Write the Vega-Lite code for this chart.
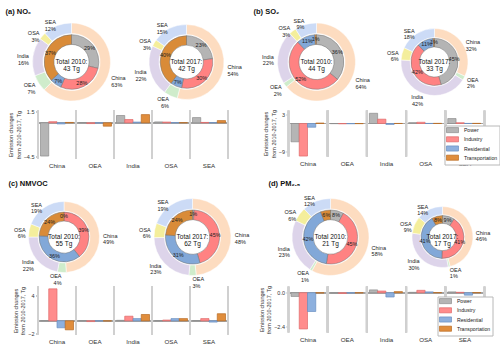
{
"$schema":"https://vega.github.io/schema/vega-lite/v6.json",
"background":"white",
"padding":{"left":5,"top":7.5,"right":0,"bottom":0},
"columns":2,
"spacing":{"row":0,"column":60.5},
"bounds":"flush",
"align":"each",
"resolve":{"scale":{"color":"independent","fill":"independent","stroke":"independent"},"legend":{"color":"independent","fill":"independent","stroke":"independent"}},
"config":{"view":{"stroke":null},"font":"Liberation Sans","legend":{"labelFontSize":5.2,"symbolSize":4,"symbolStrokeWidth":0.7,"rowPadding":0.2}},
"datasets":{
"shares":[
{"p":"NOx","yr":2010,"k":"r","n":"China","v":63,"o":1},{"p":"NOx","yr":2010,"k":"r","n":"OEA","v":7,"o":2},{"p":"NOx","yr":2010,"k":"r","n":"India","v":16,"o":3},{"p":"NOx","yr":2010,"k":"r","n":"OSA","v":3,"o":4},{"p":"NOx","yr":2010,"k":"r","n":"SEA","v":12,"o":5},
{"p":"NOx","yr":2010,"k":"s","n":"Power","v":29,"o":1},{"p":"NOx","yr":2010,"k":"s","n":"Industry","v":28,"o":2},{"p":"NOx","yr":2010,"k":"s","n":"Residential","v":7,"o":3},{"p":"NOx","yr":2010,"k":"s","n":"Transportation","v":37,"o":4},
{"p":"NOx","yr":2017,"k":"r","n":"China","v":54,"o":1},{"p":"NOx","yr":2017,"k":"r","n":"OEA","v":6,"o":2},{"p":"NOx","yr":2017,"k":"r","n":"India","v":22,"o":3},{"p":"NOx","yr":2017,"k":"r","n":"OSA","v":3,"o":4},{"p":"NOx","yr":2017,"k":"r","n":"SEA","v":15,"o":5},
{"p":"NOx","yr":2017,"k":"s","n":"Power","v":23,"o":1},{"p":"NOx","yr":2017,"k":"s","n":"Industry","v":30,"o":2},{"p":"NOx","yr":2017,"k":"s","n":"Residential","v":7,"o":3},{"p":"NOx","yr":2017,"k":"s","n":"Transportation","v":40,"o":4},
{"p":"SO2","yr":2010,"k":"r","n":"China","v":64,"o":1},{"p":"SO2","yr":2010,"k":"r","n":"OEA","v":2,"o":2},{"p":"SO2","yr":2010,"k":"r","n":"India","v":22,"o":3},{"p":"SO2","yr":2010,"k":"r","n":"OSA","v":3,"o":4},{"p":"SO2","yr":2010,"k":"r","n":"SEA","v":9,"o":5},
{"p":"SO2","yr":2010,"k":"s","n":"Power","v":36,"o":1},{"p":"SO2","yr":2010,"k":"s","n":"Industry","v":52,"o":2},{"p":"SO2","yr":2010,"k":"s","n":"Residential","v":11,"o":3},{"p":"SO2","yr":2010,"k":"s","n":"Transportation","v":1,"o":4},
{"p":"SO2","yr":2017,"k":"r","n":"China","v":32,"o":1},{"p":"SO2","yr":2017,"k":"r","n":"OEA","v":2,"o":2},{"p":"SO2","yr":2017,"k":"r","n":"India","v":42,"o":3},{"p":"SO2","yr":2017,"k":"r","n":"OSA","v":6,"o":4},{"p":"SO2","yr":2017,"k":"r","n":"SEA","v":18,"o":5},
{"p":"SO2","yr":2017,"k":"s","n":"Power","v":45,"o":1},{"p":"SO2","yr":2017,"k":"s","n":"Industry","v":42,"o":2},{"p":"SO2","yr":2017,"k":"s","n":"Residential","v":11,"o":3},{"p":"SO2","yr":2017,"k":"s","n":"Transportation","v":1,"o":4},
{"p":"NMVOC","yr":2010,"k":"r","n":"China","v":49,"o":1},{"p":"NMVOC","yr":2010,"k":"r","n":"OEA","v":4,"o":2},{"p":"NMVOC","yr":2010,"k":"r","n":"India","v":22,"o":3},{"p":"NMVOC","yr":2010,"k":"r","n":"OSA","v":6,"o":4},{"p":"NMVOC","yr":2010,"k":"r","n":"SEA","v":19,"o":5},
{"p":"NMVOC","yr":2010,"k":"s","n":"Power","v":0,"o":1},{"p":"NMVOC","yr":2010,"k":"s","n":"Industry","v":39,"o":2},{"p":"NMVOC","yr":2010,"k":"s","n":"Residential","v":36,"o":3},{"p":"NMVOC","yr":2010,"k":"s","n":"Transportation","v":24,"o":4},
{"p":"NMVOC","yr":2017,"k":"r","n":"China","v":48,"o":1},{"p":"NMVOC","yr":2017,"k":"r","n":"OEA","v":3,"o":2},{"p":"NMVOC","yr":2017,"k":"r","n":"India","v":23,"o":3},{"p":"NMVOC","yr":2017,"k":"r","n":"OSA","v":6,"o":4},{"p":"NMVOC","yr":2017,"k":"r","n":"SEA","v":19,"o":5},
{"p":"NMVOC","yr":2017,"k":"s","n":"Power","v":1,"o":1},{"p":"NMVOC","yr":2017,"k":"s","n":"Industry","v":45,"o":2},{"p":"NMVOC","yr":2017,"k":"s","n":"Residential","v":31,"o":3},{"p":"NMVOC","yr":2017,"k":"s","n":"Transportation","v":24,"o":4},
{"p":"PM","yr":2010,"k":"r","n":"China","v":58,"o":1},{"p":"PM","yr":2010,"k":"r","n":"OEA","v":1,"o":2},{"p":"PM","yr":2010,"k":"r","n":"India","v":23,"o":3},{"p":"PM","yr":2010,"k":"r","n":"OSA","v":6,"o":4},{"p":"PM","yr":2010,"k":"r","n":"SEA","v":12,"o":5},
{"p":"PM","yr":2010,"k":"s","n":"Power","v":8,"o":1},{"p":"PM","yr":2010,"k":"s","n":"Industry","v":45,"o":2},{"p":"PM","yr":2010,"k":"s","n":"Residential","v":42,"o":3},{"p":"PM","yr":2010,"k":"s","n":"Transportation","v":6,"o":4},
{"p":"PM","yr":2017,"k":"r","n":"China","v":46,"o":1},{"p":"PM","yr":2017,"k":"r","n":"OEA","v":1,"o":2},{"p":"PM","yr":2017,"k":"r","n":"India","v":30,"o":3},{"p":"PM","yr":2017,"k":"r","n":"OSA","v":9,"o":4},{"p":"PM","yr":2017,"k":"r","n":"SEA","v":14,"o":5},
{"p":"PM","yr":2017,"k":"s","n":"Power","v":9,"o":1},{"p":"PM","yr":2017,"k":"s","n":"Industry","v":41,"o":2},{"p":"PM","yr":2017,"k":"s","n":"Residential","v":41,"o":3},{"p":"PM","yr":2017,"k":"s","n":"Transportation","v":8,"o":4}
],
"totals":[{"p":"NOx","yr":2010,"t":43},{"p":"NOx","yr":2017,"t":42},{"p":"SO2","yr":2010,"t":44},{"p":"SO2","yr":2017,"t":33},{"p":"NMVOC","yr":2010,"t":55},{"p":"NMVOC","yr":2017,"t":62},{"p":"PM","yr":2010,"t":21},{"p":"PM","yr":2017,"t":17}],
"bars":[
{"p":"NOx","r":"China","s":"Power","v":-4.45},{"p":"NOx","r":"China","s":"Industry","v":0.15},{"p":"NOx","r":"China","s":"Residential","v":-0.15},{"p":"NOx","r":"China","s":"Transportation","v":0.05},
{"p":"NOx","r":"OEA","s":"Power","v":0.03},{"p":"NOx","r":"OEA","s":"Industry","v":-0.1},{"p":"NOx","r":"OEA","s":"Residential","v":-0.02},{"p":"NOx","r":"OEA","s":"Transportation","v":-0.45},
{"p":"NOx","r":"India","s":"Power","v":0.98},{"p":"NOx","r":"India","s":"Industry","v":0.44},{"p":"NOx","r":"India","s":"Residential","v":0.1},{"p":"NOx","r":"India","s":"Transportation","v":1.1},
{"p":"NOx","r":"OSA","s":"Power","v":0.12},{"p":"NOx","r":"OSA","s":"Industry","v":0.1},{"p":"NOx","r":"OSA","s":"Residential","v":0.02},{"p":"NOx","r":"OSA","s":"Transportation","v":0.02},
{"p":"NOx","r":"SEA","s":"Power","v":0.7},{"p":"NOx","r":"SEA","s":"Industry","v":0.05},{"p":"NOx","r":"SEA","s":"Residential","v":0.02},{"p":"NOx","r":"SEA","s":"Transportation","v":0.3},
{"p":"SO2","r":"China","s":"Power","v":-5.9},{"p":"SO2","r":"China","s":"Industry","v":-10.5},{"p":"SO2","r":"China","s":"Residential","v":-1.2},{"p":"SO2","r":"China","s":"Transportation","v":0.15},
{"p":"SO2","r":"OEA","s":"Power","v":-0.05},{"p":"SO2","r":"OEA","s":"Industry","v":-0.1},{"p":"SO2","r":"OEA","s":"Residential","v":-0.08},{"p":"SO2","r":"OEA","s":"Transportation","v":-0.05},
{"p":"SO2","r":"India","s":"Power","v":3.3},{"p":"SO2","r":"India","s":"Industry","v":1.4},{"p":"SO2","r":"India","s":"Residential","v":-0.3},{"p":"SO2","r":"India","s":"Transportation","v":0.02},
{"p":"SO2","r":"OSA","s":"Power","v":0.3},{"p":"SO2","r":"OSA","s":"Industry","v":0.4},{"p":"SO2","r":"OSA","s":"Residential","v":0.03},{"p":"SO2","r":"OSA","s":"Transportation","v":0.05},
{"p":"SO2","r":"SEA","s":"Power","v":1.6},{"p":"SO2","r":"SEA","s":"Industry","v":0.25},{"p":"SO2","r":"SEA","s":"Residential","v":0.03},{"p":"SO2","r":"SEA","s":"Transportation","v":0.05},
{"p":"NMVOC","r":"China","s":"Power","v":0.02},{"p":"NMVOC","r":"China","s":"Industry","v":5.05},{"p":"NMVOC","r":"China","s":"Residential","v":-1.1},{"p":"NMVOC","r":"China","s":"Transportation","v":-1.42},
{"p":"NMVOC","r":"OEA","s":"Power","v":0},{"p":"NMVOC","r":"OEA","s":"Industry","v":-0.12},{"p":"NMVOC","r":"OEA","s":"Residential","v":-0.02},{"p":"NMVOC","r":"OEA","s":"Transportation","v":-0.03},
{"p":"NMVOC","r":"India","s":"Power","v":0.08},{"p":"NMVOC","r":"India","s":"Industry","v":0.73},{"p":"NMVOC","r":"India","s":"Residential","v":0.35},{"p":"NMVOC","r":"India","s":"Transportation","v":1.0},
{"p":"NMVOC","r":"OSA","s":"Power","v":0.02},{"p":"NMVOC","r":"OSA","s":"Industry","v":0.12},{"p":"NMVOC","r":"OSA","s":"Residential","v":0.35},{"p":"NMVOC","r":"OSA","s":"Transportation","v":0.35},
{"p":"NMVOC","r":"SEA","s":"Power","v":0.02},{"p":"NMVOC","r":"SEA","s":"Industry","v":0.35},{"p":"NMVOC","r":"SEA","s":"Residential","v":-0.2},{"p":"NMVOC","r":"SEA","s":"Transportation","v":1.12},
{"p":"PM","r":"China","s":"Power","v":-0.26},{"p":"PM","r":"China","s":"Industry","v":-2.55},{"p":"PM","r":"China","s":"Residential","v":-1.32},{"p":"PM","r":"China","s":"Transportation","v":-0.02},
{"p":"PM","r":"OEA","s":"Power","v":-0.02},{"p":"PM","r":"OEA","s":"Industry","v":-0.05},{"p":"PM","r":"OEA","s":"Residential","v":-0.02},{"p":"PM","r":"OEA","s":"Transportation","v":-0.01},
{"p":"PM","r":"India","s":"Power","v":0.2},{"p":"PM","r":"India","s":"Industry","v":0.12},{"p":"PM","r":"India","s":"Residential","v":-0.3},{"p":"PM","r":"India","s":"Transportation","v":0.08},
{"p":"PM","r":"OSA","s":"Power","v":0.03},{"p":"PM","r":"OSA","s":"Industry","v":0.17},{"p":"PM","r":"OSA","s":"Residential","v":0.06},{"p":"PM","r":"OSA","s":"Transportation","v":0.01},
{"p":"PM","r":"SEA","s":"Power","v":0.06},{"p":"PM","r":"SEA","s":"Industry","v":0.03},{"p":"PM","r":"SEA","s":"Residential","v":-0.17},{"p":"PM","r":"SEA","s":"Transportation","v":0.01}
]
},
"concat":[
{
"width":190,"height":97,
"title":{"text":"(a) NOₓ","anchor":"start","frame":"group","dx":-32.5,"offset":-2,"fontSize":7.5,"fontWeight":"bold","color":"#111"},
"data":{"name":"shares"},
"transform":[{"filter":"datum.p === 'NOx'"}],
"encoding":{"x":{"field":"yr","type":"ordinal","scale":{"type":"point","padding":0.3261,"align":0.4467},"axis":null}},
"resolve":{"scale":{"theta":"independent"}},
"layer":[
{"transform":[{"filter":"datum.yr === 2010 && datum.k === 'r'"}],"mark":{"type":"arc","radius":39,"radius2":28.5,"stroke":"#ffffff","strokeWidth":0.5},"encoding":{"theta":{"field":"v","type":"quantitative","stack":true},"order":{"field":"o","type":"quantitative"},"color":{"field":"n","type":"nominal","scale":{"domain":["China","OEA","India","OSA","SEA","Power","Industry","Residential","Transportation"],"range":["#fddcc0","#cfeccb","#ddd4ea","#f4ee9c","#ccdbf6","#b4b4b4","#ff8282","#82a8d8","#d98b38"]},"legend":null}}},
{"transform":[{"filter":"datum.yr === 2010 && datum.k === 's'"}],"mark":{"type":"arc","radius":27.3,"radius2":17.6,"stroke":"#707070","strokeWidth":0.5},"encoding":{"theta":{"field":"v","type":"quantitative","stack":true},"order":{"field":"o","type":"quantitative"},"color":{"field":"n","type":"nominal","scale":{"domain":["China","OEA","India","OSA","SEA","Power","Industry","Residential","Transportation"],"range":["#fddcc0","#cfeccb","#ddd4ea","#f4ee9c","#ccdbf6","#b4b4b4","#ff8282","#82a8d8","#d98b38"]},"legend":null}}},
{"transform":[{"filter":"datum.yr === 2017 && datum.k === 'r'"}],"mark":{"type":"arc","radius":37.5,"radius2":27.4,"stroke":"#ffffff","strokeWidth":0.5},"encoding":{"theta":{"field":"v","type":"quantitative","stack":true},"order":{"field":"o","type":"quantitative"},"color":{"field":"n","type":"nominal","scale":{"domain":["China","OEA","India","OSA","SEA","Power","Industry","Residential","Transportation"],"range":["#fddcc0","#cfeccb","#ddd4ea","#f4ee9c","#ccdbf6","#b4b4b4","#ff8282","#82a8d8","#d98b38"]},"legend":null}}},
{"transform":[{"filter":"datum.yr === 2017 && datum.k === 's'"}],"mark":{"type":"arc","radius":26.3,"radius2":16.9,"stroke":"#707070","strokeWidth":0.5},"encoding":{"theta":{"field":"v","type":"quantitative","stack":true},"order":{"field":"o","type":"quantitative"},"color":{"field":"n","type":"nominal","scale":{"domain":["China","OEA","India","OSA","SEA","Power","Industry","Residential","Transportation"],"range":["#fddcc0","#cfeccb","#ddd4ea","#f4ee9c","#ccdbf6","#b4b4b4","#ff8282","#82a8d8","#d98b38"]},"legend":null}}},
{"transform":[{"filter":"datum.yr === 2010 && datum.k === 'r'"},{"calculate":"datum.n + '|' + datum.v + '%'","as":"lab"}],"mark":{"type":"text","radius":43,"fontSize":5.5,"lineBreak":"|","lineHeight":6.6,"baseline":"middle","align":{"expr":"datum.v_start + datum.v_end > 100 ? 'right' : 'left'"},"color":"#222"},"encoding":{"theta":{"field":"v","type":"quantitative","stack":true},"order":{"field":"o","type":"quantitative"},"text":{"field":"lab"}}},
{"transform":[{"filter":"datum.yr === 2010 && datum.k === 's'"},{"calculate":"datum.v + '%'","as":"lab"}],"mark":{"type":"text","radius":23,"fontSize":5.5,"baseline":"middle","color":"#222"},"encoding":{"theta":{"field":"v","type":"quantitative","stack":true},"order":{"field":"o","type":"quantitative"},"text":{"field":"lab"}}},
{"transform":[{"filter":"datum.yr === 2017 && datum.k === 'r'"},{"calculate":"datum.n + '|' + datum.v + '%'","as":"lab"}],"mark":{"type":"text","radius":41.3,"fontSize":5.5,"lineBreak":"|","lineHeight":6.6,"baseline":"middle","align":{"expr":"datum.v_start + datum.v_end > 100 ? 'right' : 'left'"},"color":"#222"},"encoding":{"theta":{"field":"v","type":"quantitative","stack":true},"order":{"field":"o","type":"quantitative"},"text":{"field":"lab"}}},
{"transform":[{"filter":"datum.yr === 2017 && datum.k === 's'"},{"calculate":"datum.v + '%'","as":"lab"}],"mark":{"type":"text","radius":22.1,"fontSize":5.5,"baseline":"middle","color":"#222"},"encoding":{"theta":{"field":"v","type":"quantitative","stack":true},"order":{"field":"o","type":"quantitative"},"text":{"field":"lab"}}},
{"data":{"name":"totals"},"transform":[{"filter":"datum.p === 'NOx'"},{"calculate":"'Total ' + datum.yr + ':|' + datum.t + ' Tg'","as":"lab"}],"mark":{"type":"text","fontSize":6.5,"lineBreak":"|","lineHeight":7.2,"baseline":"middle","align":"center","color":"#111"},"encoding":{"text":{"field":"lab"}}}
]
},
{
"width":196,"height":97,
"title":{"text":"(b) SO₂","anchor":"start","frame":"group","dx":-35,"offset":-2,"fontSize":7.5,"fontWeight":"bold","color":"#111"},
"data":{"name":"shares"},
"transform":[{"filter":"datum.p === 'SO2'"}],
"encoding":{"x":{"field":"yr","type":"ordinal","scale":{"type":"point","padding":0.3305,"align":0.359},"axis":null}},
"resolve":{"scale":{"theta":"independent"}},
"layer":[
{"transform":[{"filter":"datum.yr === 2010 && datum.k === 'r'"}],"mark":{"type":"arc","radius":39,"radius2":28.5,"stroke":"#ffffff","strokeWidth":0.5},"encoding":{"theta":{"field":"v","type":"quantitative","stack":true},"order":{"field":"o","type":"quantitative"},"color":{"field":"n","type":"nominal","scale":{"domain":["China","OEA","India","OSA","SEA","Power","Industry","Residential","Transportation"],"range":["#fddcc0","#cfeccb","#ddd4ea","#f4ee9c","#ccdbf6","#b4b4b4","#ff8282","#82a8d8","#d98b38"]},"legend":null}}},
{"transform":[{"filter":"datum.yr === 2010 && datum.k === 's'"}],"mark":{"type":"arc","radius":27.3,"radius2":17.6,"stroke":"#707070","strokeWidth":0.5},"encoding":{"theta":{"field":"v","type":"quantitative","stack":true},"order":{"field":"o","type":"quantitative"},"color":{"field":"n","type":"nominal","scale":{"domain":["China","OEA","India","OSA","SEA","Power","Industry","Residential","Transportation"],"range":["#fddcc0","#cfeccb","#ddd4ea","#f4ee9c","#ccdbf6","#b4b4b4","#ff8282","#82a8d8","#d98b38"]},"legend":null}}},
{"transform":[{"filter":"datum.yr === 2017 && datum.k === 'r'"}],"mark":{"type":"arc","radius":33.5,"radius2":24.5,"stroke":"#ffffff","strokeWidth":0.5},"encoding":{"theta":{"field":"v","type":"quantitative","stack":true},"order":{"field":"o","type":"quantitative"},"color":{"field":"n","type":"nominal","scale":{"domain":["China","OEA","India","OSA","SEA","Power","Industry","Residential","Transportation"],"range":["#fddcc0","#cfeccb","#ddd4ea","#f4ee9c","#ccdbf6","#b4b4b4","#ff8282","#82a8d8","#d98b38"]},"legend":null}}},
{"transform":[{"filter":"datum.yr === 2017 && datum.k === 's'"}],"mark":{"type":"arc","radius":23.5,"radius2":15.1,"stroke":"#707070","strokeWidth":0.5},"encoding":{"theta":{"field":"v","type":"quantitative","stack":true},"order":{"field":"o","type":"quantitative"},"color":{"field":"n","type":"nominal","scale":{"domain":["China","OEA","India","OSA","SEA","Power","Industry","Residential","Transportation"],"range":["#fddcc0","#cfeccb","#ddd4ea","#f4ee9c","#ccdbf6","#b4b4b4","#ff8282","#82a8d8","#d98b38"]},"legend":null}}},
{"transform":[{"filter":"datum.yr === 2010 && datum.k === 'r'"},{"calculate":"datum.n + '|' + datum.v + '%'","as":"lab"}],"mark":{"type":"text","radius":43,"fontSize":5.5,"lineBreak":"|","lineHeight":6.6,"baseline":"middle","align":{"expr":"datum.v_start + datum.v_end > 100 ? 'right' : 'left'"},"color":"#222"},"encoding":{"theta":{"field":"v","type":"quantitative","stack":true},"order":{"field":"o","type":"quantitative"},"text":{"field":"lab"}}},
{"transform":[{"filter":"datum.yr === 2010 && datum.k === 's'"},{"calculate":"datum.v + '%'","as":"lab"}],"mark":{"type":"text","radius":23,"fontSize":5.5,"baseline":"middle","color":"#222"},"encoding":{"theta":{"field":"v","type":"quantitative","stack":true},"order":{"field":"o","type":"quantitative"},"text":{"field":"lab"}}},
{"transform":[{"filter":"datum.yr === 2017 && datum.k === 'r'"},{"calculate":"datum.n + '|' + datum.v + '%'","as":"lab"}],"mark":{"type":"text","radius":37,"fontSize":5.5,"lineBreak":"|","lineHeight":6.6,"baseline":"middle","align":{"expr":"datum.v_start + datum.v_end > 100 ? 'right' : 'left'"},"color":"#222"},"encoding":{"theta":{"field":"v","type":"quantitative","stack":true},"order":{"field":"o","type":"quantitative"},"text":{"field":"lab"}}},
{"transform":[{"filter":"datum.yr === 2017 && datum.k === 's'"},{"calculate":"datum.v + '%'","as":"lab"}],"mark":{"type":"text","radius":19.8,"fontSize":5.5,"baseline":"middle","color":"#222"},"encoding":{"theta":{"field":"v","type":"quantitative","stack":true},"order":{"field":"o","type":"quantitative"},"text":{"field":"lab"}}},
{"data":{"name":"totals"},"transform":[{"filter":"datum.p === 'SO2'"},{"calculate":"'Total ' + datum.yr + ':|' + datum.t + ' Tg'","as":"lab"}],"mark":{"type":"text","fontSize":6.5,"lineBreak":"|","lineHeight":7.2,"baseline":"middle","align":"center","color":"#111"},"encoding":{"text":{"field":"lab"}}}
]
},
{
"width":190,"height":48,
"data":{"name":"bars"},
"transform":[{"filter":"datum.p === 'NOx'"}],
"layer":[
{"mark":{"type":"rule","color":"#a6a6a6","strokeWidth":0.7},"encoding":{"y":{"datum":0,"type":"quantitative","scale":{"domain":[-4.78,1.65],"nice":false}}}},
{"mark":{"type":"bar","strokeWidth":0.7},"encoding":{
"x":{"field":"r","type":"nominal","sort":["China","OEA","India","OSA","SEA"],"scale":{"paddingInner":0,"paddingOuter":0},"axis":{"title":null,"labelAngle":0,"domain":false,"ticks":false,"labelFontSize":6.2,"labelColor":"#333","labelPadding":4}},
"xOffset":{"field":"s","type":"nominal","sort":["Power","Industry","Residential","Transportation"],"scale":{"paddingInner":0,"paddingOuter":0.3}},
"y":{"field":"v","type":"quantitative","scale":{"domain":[-4.78,1.65],"nice":false},"axis":{"title":["Emission changes","from 2010-2017, Tg"],"values":[1.5,0,-1.5,-3,-4.5],"format":".1f","domain":false,"grid":false,"tickSize":2.5,"tickColor":"#555","tickWidth":0.6,"labelFontSize":5.5,"labelColor":"#333","labelPadding":1.5,"titleFontSize":5.5,"titleFontWeight":"normal","titleColor":"#333","titlePadding":2}},
"fill":{"field":"s","type":"nominal","scale":{"domain":["Power","Industry","Residential","Transportation"],"range":["#b5b5b5","#ff8c8c","#8db0de","#e08d3c"]},"legend":null},
"stroke":{"field":"s","type":"nominal","scale":{"domain":["Power","Industry","Residential","Transportation"],"range":["#8c8c8c","#e06a6a","#6a8fc2","#b96c22"]},"legend":null}}},
{"mark":{"type":"rule","color":"#d0d0d0","strokeWidth":2},"encoding":{"x":{"field":"r","type":"nominal","sort":["China","OEA","India","OSA","SEA"],"bandPosition":0}}},
{"mark":{"type":"rule","color":"#d0d0d0","strokeWidth":2},"encoding":{"x":{"field":"r","type":"nominal","sort":["China","OEA","India","OSA","SEA"],"bandPosition":1}}}
]
},
{
"width":196,"height":46,
"data":{"name":"bars"},
"transform":[{"filter":"datum.p === 'SO2'"}],
"layer":[
{"mark":{"type":"rule","color":"#a6a6a6","strokeWidth":0.7},"encoding":{"y":{"datum":0,"type":"quantitative","scale":{"domain":[-10.65,4.2],"nice":false}}}},
{"mark":{"type":"bar","strokeWidth":0.7},"encoding":{
"x":{"field":"r","type":"nominal","sort":["China","OEA","India","OSA","SEA"],"scale":{"paddingInner":0,"paddingOuter":0},"axis":{"title":null,"labelAngle":0,"domain":false,"ticks":false,"labelFontSize":6.2,"labelColor":"#333","labelPadding":4}},
"xOffset":{"field":"s","type":"nominal","sort":["Power","Industry","Residential","Transportation"],"scale":{"paddingInner":0,"paddingOuter":0.3}},
"y":{"field":"v","type":"quantitative","scale":{"domain":[-10.65,4.2],"nice":false},"axis":{"title":["Emission changes","from 2010-2017, Tg"],"values":[3,0,-3,-6,-9],"format":"d","domain":false,"grid":false,"tickSize":2.5,"tickColor":"#555","tickWidth":0.6,"labelFontSize":5.5,"labelColor":"#333","labelPadding":1.5,"titleFontSize":5.5,"titleFontWeight":"normal","titleColor":"#333","titlePadding":2}},
"fill":{"field":"s","type":"nominal","scale":{"domain":["Power","Industry","Residential","Transportation"],"range":["#b5b5b5","#ff8c8c","#8db0de","#e08d3c"]},"legend":{"title":null,"orient":"none","legendX":156,"legendY":15,"direction":"vertical","fillColor":"#ffffff","strokeColor":"#b8b8b8","padding":2,"labelFontSize":5.2,"labelColor":"#222","symbolType":"M-6,-2.55H6V2.55H-6Z","symbolSize":4,"symbolStrokeWidth":0.7,"symbolOffset":3.4,"labelOffset":8.8,"rowPadding":0.2}},
"stroke":{"field":"s","type":"nominal","scale":{"domain":["Power","Industry","Residential","Transportation"],"range":["#8c8c8c","#e06a6a","#6a8fc2","#b96c22"]},"legend":{"title":null,"orient":"none","legendX":156,"legendY":15,"direction":"vertical","fillColor":"#ffffff","strokeColor":"#b8b8b8","padding":2,"labelFontSize":5.2,"labelColor":"#222","symbolType":"M-6,-2.55H6V2.55H-6Z","symbolSize":4,"symbolStrokeWidth":0.7,"symbolOffset":3.4,"labelOffset":8.8,"rowPadding":0.2}}}},
{"mark":{"type":"rule","color":"#d0d0d0","strokeWidth":2},"encoding":{"x":{"field":"r","type":"nominal","sort":["China","OEA","India","OSA","SEA"],"bandPosition":0}}},
{"mark":{"type":"rule","color":"#d0d0d0","strokeWidth":2},"encoding":{"x":{"field":"r","type":"nominal","sort":["China","OEA","India","OSA","SEA"],"bandPosition":1}}}
]
},
{"width":190,"height":29,"data":{"values":[]},"mark":{"type":"point"},"encoding":{}},
{"width":196,"height":29,"data":{"values":[]},"mark":{"type":"point"},"encoding":{}},
{
"width":190,"height":99,
"title":{"text":"(c) NMVOC","anchor":"start","frame":"group","dx":-29.5,"offset":0,"fontSize":7.5,"fontWeight":"bold","color":"#111"},
"data":{"name":"shares"},
"transform":[{"filter":"datum.p === 'NMVOC'"}],
"encoding":{"x":{"field":"yr","type":"ordinal","scale":{"type":"point","padding":0.2393,"align":0.4228},"axis":null}},
"resolve":{"scale":{"theta":"independent"}},
"layer":[
{"transform":[{"filter":"datum.yr === 2010 && datum.k === 'r'"}],"mark":{"type":"arc","radius":35.5,"radius2":25.9,"stroke":"#ffffff","strokeWidth":0.5},"encoding":{"theta":{"field":"v","type":"quantitative","stack":true},"order":{"field":"o","type":"quantitative"},"color":{"field":"n","type":"nominal","scale":{"domain":["China","OEA","India","OSA","SEA","Power","Industry","Residential","Transportation"],"range":["#fddcc0","#cfeccb","#ddd4ea","#f4ee9c","#ccdbf6","#b4b4b4","#ff8282","#82a8d8","#d98b38"]},"legend":null}}},
{"transform":[{"filter":"datum.yr === 2010 && datum.k === 's'"}],"mark":{"type":"arc","radius":24.9,"radius2":16,"stroke":"#707070","strokeWidth":0.5},"encoding":{"theta":{"field":"v","type":"quantitative","stack":true},"order":{"field":"o","type":"quantitative"},"color":{"field":"n","type":"nominal","scale":{"domain":["China","OEA","India","OSA","SEA","Power","Industry","Residential","Transportation"],"range":["#fddcc0","#cfeccb","#ddd4ea","#f4ee9c","#ccdbf6","#b4b4b4","#ff8282","#82a8d8","#d98b38"]},"legend":null}}},
{"transform":[{"filter":"datum.yr === 2017 && datum.k === 'r'"}],"mark":{"type":"arc","radius":38.5,"radius2":28.1,"stroke":"#ffffff","strokeWidth":0.5},"encoding":{"theta":{"field":"v","type":"quantitative","stack":true},"order":{"field":"o","type":"quantitative"},"color":{"field":"n","type":"nominal","scale":{"domain":["China","OEA","India","OSA","SEA","Power","Industry","Residential","Transportation"],"range":["#fddcc0","#cfeccb","#ddd4ea","#f4ee9c","#ccdbf6","#b4b4b4","#ff8282","#82a8d8","#d98b38"]},"legend":null}}},
{"transform":[{"filter":"datum.yr === 2017 && datum.k === 's'"}],"mark":{"type":"arc","radius":27,"radius2":17.3,"stroke":"#707070","strokeWidth":0.5},"encoding":{"theta":{"field":"v","type":"quantitative","stack":true},"order":{"field":"o","type":"quantitative"},"color":{"field":"n","type":"nominal","scale":{"domain":["China","OEA","India","OSA","SEA","Power","Industry","Residential","Transportation"],"range":["#fddcc0","#cfeccb","#ddd4ea","#f4ee9c","#ccdbf6","#b4b4b4","#ff8282","#82a8d8","#d98b38"]},"legend":null}}},
{"transform":[{"filter":"datum.yr === 2010 && datum.k === 'r'"},{"calculate":"datum.n + '|' + datum.v + '%'","as":"lab"}],"mark":{"type":"text","radius":39.1,"fontSize":5.5,"lineBreak":"|","lineHeight":6.6,"baseline":"middle","align":{"expr":"datum.v_start + datum.v_end > 100 ? 'right' : 'left'"},"color":"#222"},"encoding":{"theta":{"field":"v","type":"quantitative","stack":true},"order":{"field":"o","type":"quantitative"},"text":{"field":"lab"}}},
{"transform":[{"filter":"datum.yr === 2010 && datum.k === 's'"},{"calculate":"datum.v + '%'","as":"lab"}],"mark":{"type":"text","radius":20.9,"fontSize":5.5,"baseline":"middle","color":"#222"},"encoding":{"theta":{"field":"v","type":"quantitative","stack":true},"order":{"field":"o","type":"quantitative"},"text":{"field":"lab"}}},
{"transform":[{"filter":"datum.yr === 2017 && datum.k === 'r'"},{"calculate":"datum.n + '|' + datum.v + '%'","as":"lab"}],"mark":{"type":"text","radius":42.4,"fontSize":5.5,"lineBreak":"|","lineHeight":6.6,"baseline":"middle","align":{"expr":"datum.v_start + datum.v_end > 100 ? 'right' : 'left'"},"color":"#222"},"encoding":{"theta":{"field":"v","type":"quantitative","stack":true},"order":{"field":"o","type":"quantitative"},"text":{"field":"lab"}}},
{"transform":[{"filter":"datum.yr === 2017 && datum.k === 's'"},{"calculate":"datum.v + '%'","as":"lab"}],"mark":{"type":"text","radius":22.7,"fontSize":5.5,"baseline":"middle","color":"#222"},"encoding":{"theta":{"field":"v","type":"quantitative","stack":true},"order":{"field":"o","type":"quantitative"},"text":{"field":"lab"}}},
{"data":{"name":"totals"},"transform":[{"filter":"datum.p === 'NMVOC'"},{"calculate":"'Total ' + datum.yr + ':|' + datum.t + ' Tg'","as":"lab"}],"mark":{"type":"text","fontSize":6.5,"lineBreak":"|","lineHeight":7.2,"baseline":"middle","align":"center","color":"#111"},"encoding":{"text":{"field":"lab"}}}
]
},
{
"width":196,"height":99,
"title":{"text":"(d) PM₂.₅","anchor":"start","frame":"group","dx":-20,"offset":0,"fontSize":7.5,"fontWeight":"bold","color":"#111"},
"data":{"name":"shares"},
"transform":[{"filter":"datum.p === 'PM'"}],
"encoding":{"x":{"field":"yr","type":"ordinal","scale":{"type":"point","padding":0.375,"align":0.5},"axis":null}},
"resolve":{"scale":{"theta":"independent"}},
"layer":[
{"transform":[{"filter":"datum.yr === 2010 && datum.k === 'r'"}],"mark":{"type":"arc","radius":38.5,"radius2":28.1,"stroke":"#ffffff","strokeWidth":0.5},"encoding":{"theta":{"field":"v","type":"quantitative","stack":true},"order":{"field":"o","type":"quantitative"},"color":{"field":"n","type":"nominal","scale":{"domain":["China","OEA","India","OSA","SEA","Power","Industry","Residential","Transportation"],"range":["#fddcc0","#cfeccb","#ddd4ea","#f4ee9c","#ccdbf6","#b4b4b4","#ff8282","#82a8d8","#d98b38"]},"legend":null}}},
{"transform":[{"filter":"datum.yr === 2010 && datum.k === 's'"}],"mark":{"type":"arc","radius":27,"radius2":17.3,"stroke":"#707070","strokeWidth":0.5},"encoding":{"theta":{"field":"v","type":"quantitative","stack":true},"order":{"field":"o","type":"quantitative"},"color":{"field":"n","type":"nominal","scale":{"domain":["China","OEA","India","OSA","SEA","Power","Industry","Residential","Transportation"],"range":["#fddcc0","#cfeccb","#ddd4ea","#f4ee9c","#ccdbf6","#b4b4b4","#ff8282","#82a8d8","#d98b38"]},"legend":null}}},
{"transform":[{"filter":"datum.yr === 2017 && datum.k === 'r'"}],"mark":{"type":"arc","radius":30.5,"radius2":22.3,"stroke":"#ffffff","strokeWidth":0.5},"encoding":{"theta":{"field":"v","type":"quantitative","stack":true},"order":{"field":"o","type":"quantitative"},"color":{"field":"n","type":"nominal","scale":{"domain":["China","OEA","India","OSA","SEA","Power","Industry","Residential","Transportation"],"range":["#fddcc0","#cfeccb","#ddd4ea","#f4ee9c","#ccdbf6","#b4b4b4","#ff8282","#82a8d8","#d98b38"]},"legend":null}}},
{"transform":[{"filter":"datum.yr === 2017 && datum.k === 's'"}],"mark":{"type":"arc","radius":21.4,"radius2":13.7,"stroke":"#707070","strokeWidth":0.5},"encoding":{"theta":{"field":"v","type":"quantitative","stack":true},"order":{"field":"o","type":"quantitative"},"color":{"field":"n","type":"nominal","scale":{"domain":["China","OEA","India","OSA","SEA","Power","Industry","Residential","Transportation"],"range":["#fddcc0","#cfeccb","#ddd4ea","#f4ee9c","#ccdbf6","#b4b4b4","#ff8282","#82a8d8","#d98b38"]},"legend":null}}},
{"transform":[{"filter":"datum.yr === 2010 && datum.k === 'r'"},{"calculate":"datum.n + '|' + datum.v + '%'","as":"lab"}],"mark":{"type":"text","radius":42.4,"fontSize":5.5,"lineBreak":"|","lineHeight":6.6,"baseline":"middle","align":{"expr":"datum.v_start + datum.v_end > 100 ? 'right' : 'left'"},"color":"#222"},"encoding":{"theta":{"field":"v","type":"quantitative","stack":true},"order":{"field":"o","type":"quantitative"},"text":{"field":"lab"}}},
{"transform":[{"filter":"datum.yr === 2010 && datum.k === 's'"},{"calculate":"datum.v + '%'","as":"lab"}],"mark":{"type":"text","radius":22.7,"fontSize":5.5,"baseline":"middle","color":"#222"},"encoding":{"theta":{"field":"v","type":"quantitative","stack":true},"order":{"field":"o","type":"quantitative"},"text":{"field":"lab"}}},
{"transform":[{"filter":"datum.yr === 2017 && datum.k === 'r'"},{"calculate":"datum.n + '|' + datum.v + '%'","as":"lab"}],"mark":{"type":"text","radius":33.6,"fontSize":5.5,"lineBreak":"|","lineHeight":6.6,"baseline":"middle","align":{"expr":"datum.v_start + datum.v_end > 100 ? 'right' : 'left'"},"color":"#222"},"encoding":{"theta":{"field":"v","type":"quantitative","stack":true},"order":{"field":"o","type":"quantitative"},"text":{"field":"lab"}}},
{"transform":[{"filter":"datum.yr === 2017 && datum.k === 's'"},{"calculate":"datum.v + '%'","as":"lab"}],"mark":{"type":"text","radius":18,"fontSize":5.5,"baseline":"middle","color":"#222"},"encoding":{"theta":{"field":"v","type":"quantitative","stack":true},"order":{"field":"o","type":"quantitative"},"text":{"field":"lab"}}},
{"data":{"name":"totals"},"transform":[{"filter":"datum.p === 'PM'"},{"calculate":"'Total ' + datum.yr + ':|' + datum.t + ' Tg'","as":"lab"}],"mark":{"type":"text","fontSize":6.5,"lineBreak":"|","lineHeight":7.2,"baseline":"middle","align":"center","color":"#111"},"encoding":{"text":{"field":"lab"}}}
]
},
{
"width":190,"height":48,
"data":{"name":"bars"},
"transform":[{"filter":"datum.p === 'NMVOC'"}],
"layer":[
{"mark":{"type":"rule","color":"#a6a6a6","strokeWidth":0.7},"encoding":{"y":{"datum":0,"type":"quantitative","scale":{"domain":[-2.16,5.42],"nice":false}}}},
{"mark":{"type":"bar","strokeWidth":0.7},"encoding":{
"x":{"field":"r","type":"nominal","sort":["China","OEA","India","OSA","SEA"],"scale":{"paddingInner":0,"paddingOuter":0},"axis":{"title":null,"labelAngle":0,"domain":false,"ticks":false,"labelFontSize":6.2,"labelColor":"#333","labelPadding":4}},
"xOffset":{"field":"s","type":"nominal","sort":["Power","Industry","Residential","Transportation"],"scale":{"paddingInner":0,"paddingOuter":0.3}},
"y":{"field":"v","type":"quantitative","scale":{"domain":[-2.16,5.42],"nice":false},"axis":{"title":["Emission changes","from 2010-2017, Tg"],"values":[4,2,0,-2],"format":"d","domain":false,"grid":false,"tickSize":2.5,"tickColor":"#555","tickWidth":0.6,"labelFontSize":5.5,"labelColor":"#333","labelPadding":1.5,"titleFontSize":5.5,"titleFontWeight":"normal","titleColor":"#333","titlePadding":2}},
"fill":{"field":"s","type":"nominal","scale":{"domain":["Power","Industry","Residential","Transportation"],"range":["#b5b5b5","#ff8c8c","#8db0de","#e08d3c"]},"legend":null},
"stroke":{"field":"s","type":"nominal","scale":{"domain":["Power","Industry","Residential","Transportation"],"range":["#8c8c8c","#e06a6a","#6a8fc2","#b96c22"]},"legend":null}}},
{"mark":{"type":"rule","color":"#d0d0d0","strokeWidth":2},"encoding":{"x":{"field":"r","type":"nominal","sort":["China","OEA","India","OSA","SEA"],"bandPosition":0}}},
{"mark":{"type":"rule","color":"#d0d0d0","strokeWidth":2},"encoding":{"x":{"field":"r","type":"nominal","sort":["China","OEA","India","OSA","SEA"],"bandPosition":1}}}
]
},
{
"width":196,"height":46,
"data":{"name":"bars"},
"transform":[{"filter":"datum.p === 'PM'"}],
"layer":[
{"mark":{"type":"rule","color":"#a6a6a6","strokeWidth":0.7},"encoding":{"y":{"datum":0,"type":"quantitative","scale":{"domain":[-2.8,0.44],"nice":false}}}},
{"mark":{"type":"bar","strokeWidth":0.7},"encoding":{
"x":{"field":"r","type":"nominal","sort":["China","OEA","India","OSA","SEA"],"scale":{"paddingInner":0,"paddingOuter":0},"axis":{"title":null,"labelAngle":0,"domain":false,"ticks":false,"labelFontSize":6.2,"labelColor":"#333","labelPadding":4}},
"xOffset":{"field":"s","type":"nominal","sort":["Power","Industry","Residential","Transportation"],"scale":{"paddingInner":0,"paddingOuter":0.3}},
"y":{"field":"v","type":"quantitative","scale":{"domain":[-2.8,0.44],"nice":false},"axis":{"title":["Emission changes","from 2010-2017, Tg"],"values":[0,-0.8,-1.6,-2.4],"format":".1f","domain":false,"grid":false,"tickSize":2.5,"tickColor":"#555","tickWidth":0.6,"labelFontSize":5.5,"labelColor":"#333","labelPadding":1.5,"titleFontSize":5.5,"titleFontWeight":"normal","titleColor":"#333","titlePadding":2}},
"fill":{"field":"s","type":"nominal","scale":{"domain":["Power","Industry","Residential","Transportation"],"range":["#b5b5b5","#ff8c8c","#8db0de","#e08d3c"]},"legend":{"title":null,"orient":"none","legendX":149,"legendY":10,"direction":"vertical","fillColor":"#ffffff","strokeColor":"#b8b8b8","padding":2,"labelFontSize":5.2,"labelColor":"#222","symbolType":"M-6,-2.55H6V2.55H-6Z","symbolSize":4,"symbolStrokeWidth":0.7,"symbolOffset":3.4,"labelOffset":8.8,"rowPadding":0.2}},
"stroke":{"field":"s","type":"nominal","scale":{"domain":["Power","Industry","Residential","Transportation"],"range":["#8c8c8c","#e06a6a","#6a8fc2","#b96c22"]},"legend":{"title":null,"orient":"none","legendX":149,"legendY":10,"direction":"vertical","fillColor":"#ffffff","strokeColor":"#b8b8b8","padding":2,"labelFontSize":5.2,"labelColor":"#222","symbolType":"M-6,-2.55H6V2.55H-6Z","symbolSize":4,"symbolStrokeWidth":0.7,"symbolOffset":3.4,"labelOffset":8.8,"rowPadding":0.2}}}},
{"mark":{"type":"rule","color":"#d0d0d0","strokeWidth":2},"encoding":{"x":{"field":"r","type":"nominal","sort":["China","OEA","India","OSA","SEA"],"bandPosition":0}}},
{"mark":{"type":"rule","color":"#d0d0d0","strokeWidth":2},"encoding":{"x":{"field":"r","type":"nominal","sort":["China","OEA","India","OSA","SEA"],"bandPosition":1}}}
]
}
]
}
